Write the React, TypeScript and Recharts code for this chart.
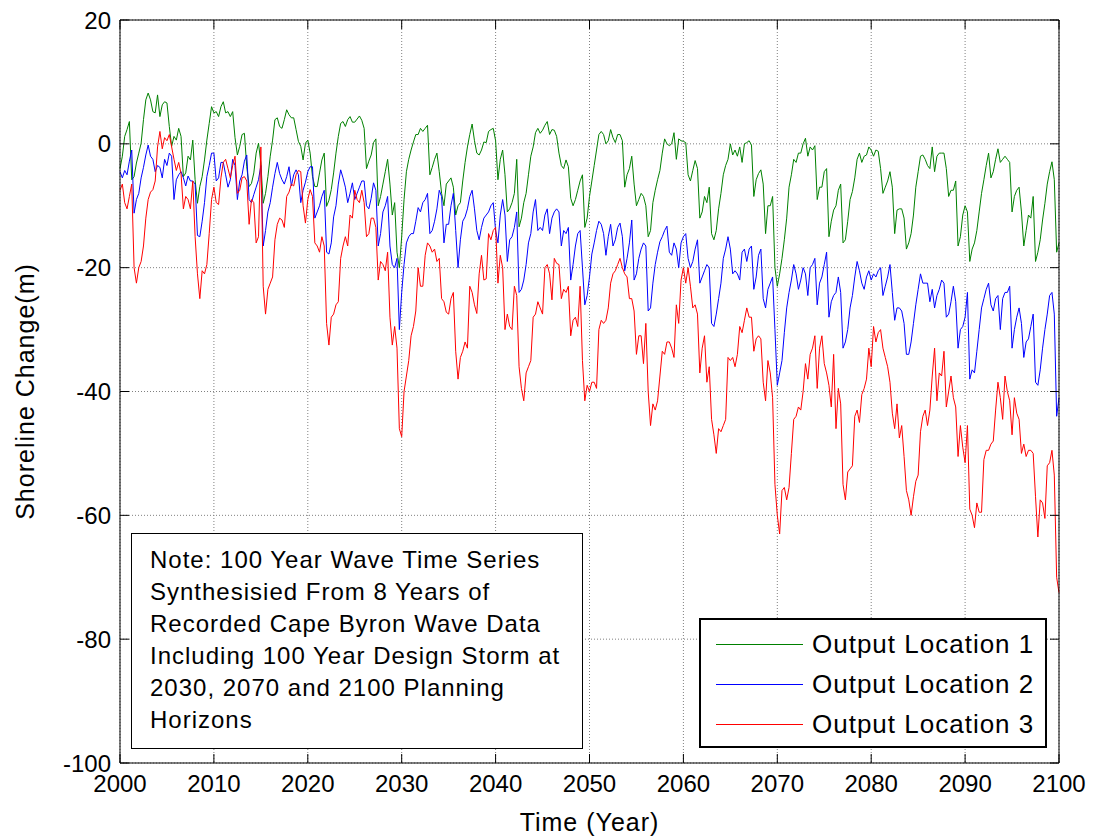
import { CartesianGrid, Legend, Line, LineChart, ReferenceLine, XAxis, YAxis } from 'recharts'

const START_YEAR = 2000
const STEP = 0.25

const yearTicks = [2000, 2010, 2020, 2030, 2040, 2050, 2060, 2070, 2080, 2090, 2100]
const changeTicks = [-100, -80, -60, -40, -20, 0, 20]

const seriesNames = ['Output Location 1', 'Output Location 2', 'Output Location 3']
const seriesColors = ['#008000', '#0000ff', '#ff0000']

const noteLines = [
  'Note: 100 Year Wave Time Series',
  'Synthesisied From 8 Years of',
  'Recorded Cape Byron Wave Data',
  'Including 100 Year Design Storm at',
  '2030, 2070 and 2100 Planning',
  'Horizons',
]

// shoreline change (m), 4 values per year
const location1 = [
  -4.0, -2.0, 1.2, 2.3, // 2000
  3.6, -5.8, -5.3, -3.1,
  -1.5, 0.1, 3.9, 7.1,
  8.2, 7.1, 5.2, 5.0,
  7.9, 4.4, 6.3, 6.8,
  6.6, 2.8, -0.4, 1.2,
  0.6, 2.5, 1.2, -5.3,
  -4.7, -2.0, -2.6, 0.6,
  -5.8, -9.6, -6.9, -5.3,
  -2.6, 0.6, 3.3, 6.0,
  5.0, 5.2, 4.4, 6.0, // 2010
  6.8, 5.0, 5.2, 4.4,
  5.2, 1.0, -1.8, -0.4,
  1.5, 1.7, -3.7, -6.9,
  -6.4, -4.7, -1.5, 0.1,
  -3.1, -9.6, -8.0, -5.3,
  -2.0, 0.6, 3.9, 4.2,
  2.8, 2.5, 3.9, 5.5,
  4.7, 4.2, 4.2, 2.3,
  0.4, -0.4, -2.6, 0.1,
  0.6, -1.5, -5.3, -6.9, // 2020
  -6.9, -4.7, -2.6, -1.5,
  -10.1, -9.1, -7.4, -4.7,
  -1.5, 1.2, 3.3, 3.6,
  2.8, 3.9, 4.4, 3.5,
  3.5, 4.0, 4.5, 3.8,
  2.5, -4.0, -2.8, -1.8,
  0.2, 0.8, -10.0, -8.5,
  -6.5, -4.5, -2.5, -6.5,
  -11.5, -9.5, -17.5, -20.0,
  -15.0, -9.0, -4.5, -2.5, // 2030
  -1.0, 0.3, 1.5, 1.5,
  2.5, 2.0, 2.5, 3.0,
  -5.0, -3.8, -2.5, -1.5,
  -4.5, -8.0, -10.0, -6.5,
  -6.0, -5.5, -7.0, -11.5,
  -10.0, -9.5, -6.0, -3.0,
  -0.5, 1.5, 3.2, 0.5,
  -1.5, -1.8, -1.0, 0.3,
  0.2, 2.0, 2.3, 2.5,
  0.5, -5.8, -2.5, -1.0, // 2040
  -5.0, -11.0, -10.5, -9.5,
  -8.0, -2.5, -13.4, -12.0,
  -9.5, -8.0, -5.0, -2.0,
  -0.5, 1.8, 2.5, 1.7,
  2.2, 3.0, 3.6, 1.5,
  2.3, 2.2, 1.2, -1.5,
  -3.5, -4.0, -2.6, -3.7,
  -8.8, -10.0, -9.0, -7.5,
  -6.0, -5.0, -13.5, -12.0,
  -8.5, -6.0, -3.5, -1.0, // 2050
  1.5, 2.0, 1.5, 0.0,
  0.5, 2.3, 1.0, 0.2,
  1.5, 1.5, 0.5, -7.0,
  -5.0, -4.0, -2.0, -6.5,
  -10.0, -9.0, -8.0, -8.5,
  -10.0, -15.0, -14.0, -9.5,
  -7.5, -5.8, -4.3, -1.5,
  0.8, 0.0, -0.3, 0.0,
  1.8, -2.5, 0.8, 0.5,
  0.4, 0.2, -5.0, -6.0, // 2060
  -4.3, -2.7, -4.0, -12.0,
  -11.0, -8.5, -9.5, -7.0,
  -14.5, -15.5, -14.0, -10.5,
  -8.0, -5.0, -3.5, -2.5,
  0.0, -1.8, -1.0, -2.0,
  -0.5, -3.0, 0.0, 0.2,
  0.5, -0.2, -8.5, -5.8,
  -4.8, -4.2, -6.5, -14.5,
  -10.0, -10.0, -8.5, -20.0,
  -23.0, -21.0, -18.5, -15.5, // 2070
  -12.0, -7.0, -5.0, -2.5,
  -3.0, -1.5, -1.5, 0.0,
  0.9, -2.0, -0.5, -1.0,
  -0.3, -9.0, -7.0, -7.0,
  -4.5, -4.0, -15.0, -12.5,
  -10.7, -10.0, -7.5, -6.5,
  -16.0, -15.5, -12.5, -9.0,
  -7.7, -5.5, -2.5, -1.5,
  -3.0, -2.0, -1.8, -0.5,
  -1.0, -2.0, -1.0, -1.2, // 2080
  -4.0, -8.0, -7.0, -6.0,
  -4.5, -7.0, -14.5, -10.7,
  -10.5, -10.5, -12.0, -17.0,
  -16.0, -14.5, -11.5, -7.0,
  -4.5, -2.0, -1.8, -2.5,
  -3.5, -4.0, -0.5, -4.5,
  -2.0, -1.5, -1.5, -1.5,
  -4.0, -8.5, -7.5, -7.5,
  -6.0, -16.5, -15.0, -11.5,
  -10.0, -11.0, -19.0, -17.0, // 2090
  -16.0, -14.0, -11.0, -8.0,
  -5.8, -3.5, -1.5, -5.5,
  -4.5, -2.5, -0.8, -3.0,
  -2.5, -2.0, -2.5, -3.0,
  -11.0, -8.5, -7.5, -7.0,
  -11.0, -16.5, -14.0, -11.5,
  -12.0, -8.5, -19.0, -17.5,
  -15.5, -12.3, -9.6, -6.5,
  -4.5, -2.9, -5.8, -17.5,
  -16.0, // 2100
]

const location2 = [
  -4.5, -5.5, -4.3, -5.0, // 2000
  -2.8, -1.0, -11.2, -9.0,
  -8.0, -5.5, -3.8, -1.8,
  -0.2, -2.0, -2.5, -4.5,
  -3.5, -3.8, -5.5, -2.5,
  -3.5, -1.5, -2.0, -9.0,
  -5.8, -5.0, -4.5, -5.5,
  -6.8, -5.2, -6.0, -6.0,
  -6.5, -14.8, -15.0, -12.5,
  -9.5, -5.3, -3.5, -1.5,
  -1.5, -6.0, -5.5, -3.0, // 2010
  -3.0, -5.0, -7.0, -5.8,
  -2.5, -3.5, -9.0, -6.0,
  -5.0, -2.8, -1.8, -9.0,
  -9.5, -8.2, -7.0, -5.8,
  -3.5, -16.5, -14.0, -11.0,
  -9.5, -7.0, -4.8, -3.0,
  -4.8, -5.8, -6.5, -5.3,
  -3.7, -6.8, -5.0, -4.2,
  -5.0, -9.5, -7.5, -6.2,
  -4.5, -3.7, -3.7, -12.0, // 2020
  -11.0, -10.0, -8.5, -7.5,
  -17.5, -17.8, -16.0, -11.8,
  -10.0, -6.5, -4.2, -5.5,
  -7.0, -9.5, -8.0, -6.3,
  -9.0, -8.0, -7.0, -6.0,
  -6.0, -10.0, -10.5, -8.8,
  -6.3, -7.5, -16.5, -14.5,
  -11.0, -10.0, -8.5, -16.5,
  -19.5, -20.0, -18.5, -30.0,
  -24.0, -19.5, -16.0, -15.0, // 2030
  -14.5, -14.5, -12.5, -10.3,
  -11.0, -9.5, -9.0, -8.0,
  -14.5, -14.0, -12.5, -10.5,
  -7.5, -8.5, -16.0, -13.0,
  -13.0, -10.0, -8.0, -14.0,
  -20.0, -15.5, -12.5, -11.8,
  -10.5, -8.5, -7.5, -10.5,
  -14.0, -15.5, -13.5, -12.0,
  -11.5, -11.0, -10.0, -9.5,
  -14.0, -16.0, -11.5, -9.0, // 2040
  -11.5, -19.0, -15.5, -15.0,
  -13.5, -11.0, -24.0, -23.5,
  -22.0, -19.5, -16.0, -14.5,
  -11.0, -9.0, -14.0, -13.5,
  -14.0, -11.5, -10.5, -14.5,
  -12.0, -11.0, -10.5, -11.0,
  -16.5, -14.0, -14.5, -13.5,
  -22.0, -19.5, -16.5, -14.5,
  -14.0, -20.0, -26.0, -24.5,
  -21.5, -17.8, -16.0, -14.0, // 2050
  -12.5, -13.0, -14.5, -18.0,
  -15.0, -13.0, -16.5, -15.5,
  -13.5, -12.8, -15.0, -20.5,
  -18.5, -16.0, -12.3, -22.0,
  -21.0, -18.5, -17.0, -16.0,
  -16.5, -27.0, -26.5, -22.5,
  -19.5, -17.5, -15.8, -15.0,
  -14.0, -13.3, -17.5, -18.0,
  -16.0, -17.0, -20.0, -16.0,
  -15.0, -14.5, -18.5, -20.0, // 2060
  -19.0, -17.0, -15.5, -22.5,
  -21.5, -20.5, -19.5, -20.0,
  -29.0, -29.5, -27.5, -25.0,
  -22.5, -18.5, -17.0, -15.0,
  -17.0, -21.0, -20.5, -21.0,
  -22.0, -17.5, -17.0, -19.0,
  -17.0, -16.5, -23.5, -21.5,
  -18.0, -17.0, -25.0, -26.5,
  -23.5, -22.5, -21.5, -30.0,
  -39.0, -37.0, -35.0, -30.5, // 2070
  -26.5, -24.0, -22.0, -19.5,
  -21.0, -23.5, -22.0, -20.0,
  -21.0, -24.5, -20.0, -19.5,
  -18.5, -26.0, -22.5, -21.5,
  -19.5, -17.5, -28.0, -25.5,
  -24.5, -24.0, -21.5, -24.0,
  -33.0, -32.0, -30.0, -26.5,
  -24.5, -21.5, -19.0, -20.5,
  -22.5, -23.5, -21.5, -20.5,
  -22.0, -21.0, -21.5, -20.5, // 2080
  -20.0, -24.5, -23.0, -21.5,
  -19.5, -24.0, -28.5, -26.5,
  -26.5, -27.0, -29.0, -34.0,
  -34.0, -32.0, -29.0, -26.0,
  -23.5, -21.0, -22.5, -22.5,
  -22.5, -25.5, -23.5, -26.5,
  -24.5, -23.5, -22.0, -22.5,
  -28.0, -27.5, -25.5, -23.0,
  -25.5, -33.0, -30.0, -29.5,
  -28.0, -24.0, -38.0, -36.5, // 2090
  -37.0, -33.5, -30.0, -26.5,
  -25.0, -23.5, -22.5, -26.0,
  -27.0, -25.0, -24.5, -30.0,
  -25.0, -24.0, -24.0, -23.0,
  -33.0, -30.0, -28.0, -26.5,
  -29.0, -34.5, -32.0, -31.5,
  -29.5, -27.5, -38.5, -39.0,
  -36.5, -33.0, -30.0, -27.5,
  -24.5, -24.0, -27.5, -44.0,
  -41.0, // 2100
]

const location3 = [
  -7.5, -6.5, -9.5, -10.5, // 2000
  -8.5, -6.5, -20.0, -22.5,
  -20.0, -19.0, -16.5, -12.0,
  -9.0, -7.8, -7.4, -6.0,
  -0.5, 2.0, -0.8, 1.0,
  0.5, 1.5, -0.5, -2.5,
  -4.3, -3.0, -4.8, -10.5,
  -8.5, -9.0, -10.5, -6.0,
  -15.0, -21.0, -25.0, -20.5,
  -21.0, -19.5, -14.5, -9.0,
  -7.0, -9.5, -9.8, -5.5, // 2010
  -3.0, -2.5, -4.0, -5.5,
  -3.5, -2.0, -8.0, -7.5,
  -5.5, -5.3, -6.0, -13.0,
  -9.0, -9.5, -16.0, -15.0,
  -0.5, -23.0, -27.5, -23.5,
  -22.5, -21.5, -15.5, -13.0,
  -12.0, -12.3, -13.5, -8.5,
  -7.8, -6.5, -6.8, -5.0,
  -4.3, -4.5, -10.0, -12.8,
  -9.0, -7.4, -8.5, -16.0, // 2020
  -16.5, -17.5, -15.0, -16.5,
  -29.0, -32.5, -28.0, -27.5,
  -26.0, -25.5, -18.5, -16.5,
  -15.0, -16.5, -11.5, -12.0,
  -7.5, -9.0, -9.5, -7.5,
  -9.5, -15.0, -14.5, -12.0,
  -12.0, -13.5, -22.0, -19.0,
  -19.5, -20.5, -17.5, -28.0,
  -32.5, -29.5, -33.0, -46.0,
  -47.3, -40.0, -37.5, -35.0, // 2030
  -31.0, -29.5, -27.0, -20.0,
  -23.0, -23.0, -18.0, -16.0,
  -16.5, -17.5, -17.0, -19.0,
  -18.5, -25.0, -25.5, -27.2,
  -27.5, -25.0, -24.0, -33.5,
  -38.0, -34.5, -33.5, -32.0,
  -33.0, -23.0, -24.0, -26.0,
  -27.4, -21.0, -18.0, -22.0,
  -21.8, -14.5, -15.5, -14.0,
  -13.5, -22.5, -18.0, -20.0, // 2040
  -30.0, -27.5, -29.5, -30.0,
  -23.0, -24.5, -36.0, -39.5,
  -41.5, -37.0, -36.0, -35.0,
  -28.0, -27.5, -25.5, -26.5,
  -27.5, -20.0, -19.5, -21.0,
  -25.2, -18.5, -19.3, -19.5,
  -25.0, -23.5, -24.0, -23.0,
  -31.0, -28.5, -28.0, -29.5,
  -23.0, -35.0, -41.5, -39.0,
  -40.0, -38.5, -38.5, -39.5, // 2050
  -30.0, -28.5, -29.0, -28.5,
  -26.5, -22.5, -21.0, -20.5,
  -19.5, -18.5, -20.0, -21.0,
  -21.5, -25.0, -25.0, -27.0,
  -34.0, -31.0, -31.0, -35.5,
  -29.0, -40.0, -45.5, -42.0,
  -43.0, -41.5, -37.5, -33.5,
  -34.0, -32.0, -32.0, -33.0,
  -34.5, -26.0, -29.0, -22.0,
  -20.0, -22.5, -20.0, -23.0, // 2060
  -26.5, -26.0, -27.5, -37.0,
  -33.0, -31.0, -38.5, -36.0,
  -44.5, -47.0, -50.0, -46.0,
  -46.5, -45.5, -44.5, -34.5,
  -35.0, -34.5, -36.0, -34.0,
  -29.5, -30.5, -28.5, -26.5,
  -28.0, -28.0, -33.5, -31.5,
  -31.0, -31.5, -38.5, -41.5,
  -35.0, -37.0, -41.0, -55.0,
  -60.0, -63.0, -56.0, -55.5, // 2070
  -57.5, -55.5, -50.0, -44.5,
  -44.0, -42.5, -43.0, -40.0,
  -35.5, -38.0, -34.0, -33.0,
  -31.0, -39.5, -33.0, -31.0,
  -35.5, -37.0, -39.0, -42.5,
  -34.0, -46.0, -39.5, -42.0,
  -55.0, -57.5, -53.0, -52.5,
  -52.0, -44.0, -43.0, -45.0,
  -40.5, -39.5, -38.0, -33.0,
  -36.0, -29.5, -32.0, -30.5, // 2080
  -30.0, -33.0, -34.5, -36.0,
  -38.5, -43.5, -46.0, -42.0,
  -47.5, -45.5, -50.5, -56.0,
  -57.5, -60.0, -57.0, -54.5,
  -53.5, -46.5, -44.0, -43.0,
  -45.5, -43.0, -37.5, -33.0,
  -41.5, -37.0, -37.5, -33.5,
  -42.5, -40.0, -37.5, -41.0,
  -42.5, -50.5, -45.5, -49.0,
  -51.5, -45.5, -59.0, -60.0, // 2090
  -62.0, -58.0, -59.5, -59.5,
  -51.0, -49.5, -49.5, -48.5,
  -48.0, -43.0, -38.5, -41.0,
  -44.5, -37.5, -40.0, -41.5,
  -47.0, -41.0, -43.5, -44.5,
  -50.0, -48.5, -50.5, -49.5,
  -49.5, -50.0, -57.0, -63.5,
  -57.5, -58.0, -60.5, -52.0,
  -51.5, -49.5, -53.5, -70.0,
  -72.5, // 2100
]

const rows = location1.map((v, i) => ({
  year: START_YEAR + i * STEP,
  loc1: v,
  loc2: location2[i],
  loc3: location3[i],
}))

const W = 1098
const H = 836
const PLOT = { left: 120, right: 1059, top: 20, bottom: 763 }
const TICK_LEN = 9
const FONT = '"Liberation Sans", Arial, Helvetica, sans-serif'

function YearTick({ x, payload }: any) {
  return (
    <g>
      <line x1={x} x2={x} y1={PLOT.bottom} y2={PLOT.bottom - TICK_LEN} stroke="#000" />
      <line x1={x} x2={x} y1={PLOT.top} y2={PLOT.top + TICK_LEN} stroke="#000" />
      <text
        x={x}
        y={PLOT.bottom + 29}
        textAnchor="middle"
        fontFamily={FONT}
        fontSize={24}
        fill="#000"
      >
        {payload.value}
      </text>
    </g>
  )
}

function ChangeTick({ y, payload }: any) {
  return (
    <g>
      <line x1={PLOT.left} x2={PLOT.left + TICK_LEN} y1={y} y2={y} stroke="#000" />
      <line x1={PLOT.right - TICK_LEN} x2={PLOT.right} y1={y} y2={y} stroke="#000" />
      <text
        x={PLOT.left - 9}
        y={y + 8.5}
        textAnchor="end"
        fontFamily={FONT}
        fontSize={24}
        fill="#000"
      >
        {payload.value}
      </text>
    </g>
  )
}

function LegendBox({ payload }: any) {
  const items =
    payload && payload.length
      ? payload.map((p: any) => ({ name: p.value, color: p.color }))
      : seriesNames.map((name, i) => ({ name, color: seriesColors[i] }))
  return (
    <div
      style={{
        boxSizing: 'border-box',
        width: 348,
        height: 130,
        border: '2px solid #000',
        background: '#fff',
        paddingTop: 4,
        fontFamily: FONT,
      }}
    >
      {items.map((it: any) => (
        <div key={it.name} style={{ display: 'flex', alignItems: 'center', height: 40 }}>
          <div style={{ width: 87, height: 0, borderTop: `1px solid ${it.color}`, marginLeft: 15 }} />
          <span style={{ marginLeft: 9, fontSize: 26, letterSpacing: 1, color: '#000', whiteSpace: 'nowrap' }}>
            {it.name}
          </span>
        </div>
      ))}
    </div>
  )
}

export default function App() {
  return (
    <div style={{ position: 'relative', width: W, height: H, background: '#fff', fontFamily: FONT }}>
      <style>{'body{margin:0}'}</style>
      <LineChart
        width={W}
        height={H}
        data={rows}
        margin={{ top: PLOT.top, right: W - PLOT.right, bottom: 0, left: 0 }}
      >
        <CartesianGrid stroke="#808080" strokeDasharray="1 2" />
        <XAxis
          dataKey="year"
          type="number"
          domain={[2000, 2100]}
          ticks={yearTicks}
          interval={0}
          height={H - PLOT.bottom}
          axisLine={false}
          tickLine={false}
          tickSize={0}
          tickMargin={0}
          tick={<YearTick />}
          label={{
            value: 'Time (Year)',
            position: 'insideBottom',
            offset: 5,
            fontSize: 25,
            fill: '#000',
            fontFamily: FONT,
            letterSpacing: 1,
          }}
        />
        <YAxis
          type="number"
          domain={[-100, 20]}
          ticks={changeTicks}
          interval={0}
          width={PLOT.left}
          axisLine={false}
          tickLine={false}
          tickSize={0}
          tickMargin={0}
          tick={<ChangeTick />}
          allowDataOverflow
          label={{
            value: 'Shoreline Change(m)',
            angle: -90,
            position: 'insideLeft',
            offset: 25,
            fontSize: 25,
            fill: '#000',
            fontFamily: FONT,
            letterSpacing: 1,
            style: { textAnchor: 'middle' },
          }}
        />
        <Line
          type="linear"
          dataKey="loc1"
          name={seriesNames[0]}
          stroke={seriesColors[0]}
          strokeWidth={1}
          dot={false}
          isAnimationActive={false}
        />
        <Line
          type="linear"
          dataKey="loc2"
          name={seriesNames[1]}
          stroke={seriesColors[1]}
          strokeWidth={1}
          dot={false}
          isAnimationActive={false}
        />
        <Line
          type="linear"
          dataKey="loc3"
          name={seriesNames[2]}
          stroke={seriesColors[2]}
          strokeWidth={1}
          dot={false}
          isAnimationActive={false}
        />
        {/* axes box */}
        <ReferenceLine y={20} stroke="#000" strokeWidth={1} />
        <ReferenceLine y={-100} stroke="#000" strokeWidth={1} />
        <ReferenceLine x={2000} stroke="#000" strokeWidth={1} />
        <ReferenceLine x={2100} stroke="#000" strokeWidth={1} />
        <Legend
          layout="vertical"
          align="center"
          verticalAlign="middle"
          wrapperStyle={{ left: 699, top: 618, width: 348, height: 130 }}
          content={<LegendBox />}
        />
      </LineChart>
      <div
        style={{
          position: 'absolute',
          left: 131,
          top: 533,
          width: 452,
          height: 216,
          boxSizing: 'border-box',
          border: '1px solid #000',
          background: '#fff',
          padding: '10px 0 0 18px',
          fontSize: 24,
          lineHeight: '32px',
          letterSpacing: 1,
          color: '#000',
          zIndex: 2,
        }}
      >
        {noteLines.map((t) => (
          <div key={t} style={{ whiteSpace: 'nowrap' }}>
            {t}
          </div>
        ))}
      </div>
    </div>
  )
}
